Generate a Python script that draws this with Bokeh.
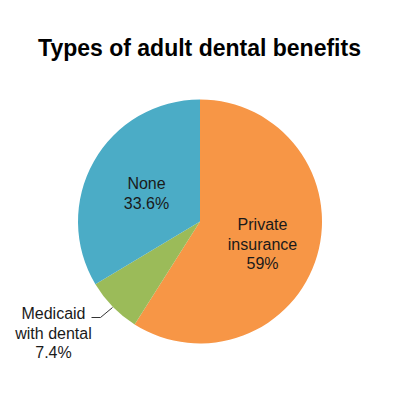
import math
from bokeh.plotting import figure
from bokeh.models import Range1d, ColumnDataSource
from bokeh.core.properties import value
from bokeh.embed import file_html
from bokeh.resources import INLINE

# data
categories = ["Private insurance", "Medicaid with dental", "None"]
shares = [59.0, 7.4, 33.6]
share_labels = ["59%", "7.4%", "33.6%"]
colors = ["#F79646", "#9BBB59", "#4BACC6"]

W, H = 392, 392
# data coords = screen pixels of the reference picture
p = figure(width=W, height=H, output_backend="svg", toolbar_location=None,
           x_range=Range1d(0, W), y_range=Range1d(0, H),
           min_border=0)
p.axis.visible = False
p.grid.visible = False
p.outline_line_color = None
p.background_fill_color = "white"

def Y(py):
    return H - py

cx, cy, r = 199.5, Y(221), 122

total = sum(shares)
starts, ends = [], []
a = math.pi / 2
for s in shares:
    starts.append(a)
    a = a - s / total * 2 * math.pi
    ends.append(a)

src = ColumnDataSource(dict(start=starts, end=ends, color=colors))
p.wedge(x=cx, y=cy, radius=r, start_angle="start", end_angle="end",
        direction="clock", fill_color="color", line_color=None, source=src)

font = value("Liberation Sans")

# title
p.text(x=[199], y=[Y(47)], text=["Types of adult dental benefits"],
       text_font=font, text_font_size="23px", text_font_style="bold",
       text_align="center", text_baseline="middle", text_color="#000000")

# slice labels
label_lines = [
    (262, ["Private", "insurance", share_labels[0]], 224),
    (53, ["Medicaid", "with dental", share_labels[1]], 313),
    (146, [categories[2], share_labels[2]], 183),
]
for lx, lines, ly in label_lines:
    p.text(x=[lx] * len(lines), y=[Y(ly + 19.5 * i) for i in range(len(lines))],
           text=lines, text_font=font, text_font_size="16px",
           text_align="center", text_baseline="middle", text_color="#1a1a1a")

# leader line for Medicaid
p.line(x=[91, 100, 112], y=[Y(317), Y(317), Y(307)], line_color="#333333", line_width=1)

open("out.html", "w").write(file_html(p, INLINE))
